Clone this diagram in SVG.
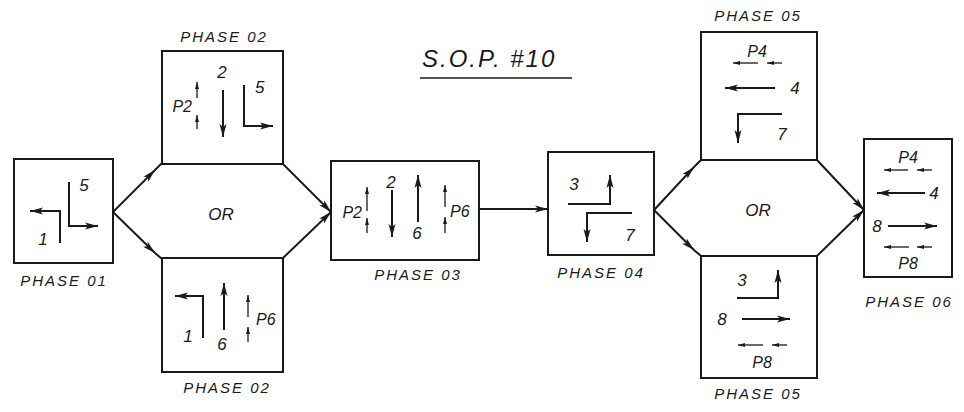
<svg xmlns="http://www.w3.org/2000/svg" width="964" height="412" viewBox="0 0 964 412">
<style>
.box{fill:none;stroke:#1a1a1a;stroke-width:2}
.mv{fill:none;stroke:#1a1a1a;stroke-width:2;marker-end:url(#ah)}
.ped{fill:none;stroke:#1a1a1a;stroke-width:1.3;marker-start:url(#ph)}
.con{fill:none;stroke:#1a1a1a;stroke-width:2}
text{font-family:"Liberation Sans",Arial,sans-serif;font-style:italic;fill:#1a1a1a;text-anchor:middle}
.lbl{font-size:15px;letter-spacing:2px}
.num{font-size:17px}
.pl{font-size:16px}
.ttl{font-size:24px;letter-spacing:2px;text-anchor:start}
</style>
<defs>
<marker id="ah" markerUnits="userSpaceOnUse" markerWidth="16" markerHeight="10" refX="13" refY="0" viewBox="0 -5 16 10" orient="auto" overflow="visible">
<path d="M0,-3.5 L13,0 L0,3.5 L3,0 Z" fill="#1a1a1a"/>
</marker>
<marker id="ph" markerUnits="userSpaceOnUse" markerWidth="8" markerHeight="6" refX="7" refY="0" viewBox="0 -3 8 6" orient="auto-start-reverse" overflow="visible">
<path d="M0,-2 L7,0 L0,2 Z" fill="#1a1a1a"/>
</marker>
</defs>

<text class="ttl" x="422" y="67">S.O.P. #10</text>
<path d="M420,78 H572" stroke="#1a1a1a" stroke-width="1.5"/>

<g id="connectors">
<path class="con" d="M113,212 L155,170 L162,163" marker-mid="url(#ah)"/>
<path class="con" d="M113,212 L155,253 L162,259" marker-mid="url(#ah)"/>
<path class="con" d="M283,164 L331,212" marker-end="url(#ah)"/>
<path class="con" d="M283,258 L331,212" marker-end="url(#ah)"/>
<path class="con" d="M479,209 H548" marker-end="url(#ah)"/>
<path class="con" d="M654,210 L694,167 L701,160" marker-mid="url(#ah)"/>
<path class="con" d="M654,210 L694,250 L701,256" marker-mid="url(#ah)"/>
<path class="con" d="M817,160 L864,210" marker-end="url(#ah)"/>
<path class="con" d="M817,256 L864,210" marker-end="url(#ah)"/>
<text class="num" x="221" y="220">OR</text>
<text class="num" x="758" y="216">OR</text>
</g>

<g id="phase01">
<rect class="box" x="14" y="159" width="99" height="104"/>
<path class="mv" d="M60,243 V211 H30"/>
<text class="num" x="43" y="245">1</text>
<path class="mv" d="M69,182 V226 H98"/>
<text class="num" x="84" y="191">5</text>
<text class="lbl" x="64" y="286">PHASE 01</text>
</g>

<g id="phase02a">
<rect class="box" x="162" y="51" width="121" height="113"/>
<text class="lbl" x="224" y="42">PHASE 02</text>
<text class="num" x="222" y="78">2</text>
<path class="mv" d="M223,90 V137"/>
<path class="ped" d="M197,82 V98"/>
<path class="ped" d="M197,115 V129"/>
<text class="pl" x="192" y="112" style="text-anchor:end">P2</text>
<path class="mv" d="M244,85 V126 H273"/>
<text class="num" x="255" y="93" style="text-anchor:start">5</text>
</g>

<g id="phase02b">
<rect class="box" x="162" y="258" width="121" height="114"/>
<path class="mv" d="M203,338 V296 H175"/>
<text class="num" x="188" y="342">1</text>
<path class="mv" d="M224,330 V283"/>
<text class="num" x="222" y="350">6</text>
<path class="ped" d="M248,295 V317"/>
<path class="ped" d="M248,327 V342"/>
<text class="pl" x="256" y="325" style="text-anchor:start">P6</text>
<text class="lbl" x="227" y="393">PHASE 02</text>
</g>

<g id="phase03">
<rect class="box" x="331" y="161" width="148" height="99"/>
<path class="ped" d="M367,187 V211"/>
<path class="ped" d="M367,218 V233"/>
<text class="pl" x="362" y="218" style="text-anchor:end">P2</text>
<text class="num" x="391" y="188">2</text>
<path class="mv" d="M392,190 V237"/>
<path class="mv" d="M418,222 V175"/>
<text class="num" x="417" y="239">6</text>
<path class="ped" d="M445,185 V207"/>
<path class="ped" d="M445,217 V233"/>
<text class="pl" x="450" y="217" style="text-anchor:start">P6</text>
<text class="lbl" x="418" y="280">PHASE 03</text>
</g>

<g id="phase04">
<rect class="box" x="548" y="152" width="106" height="103"/>
<path class="mv" d="M568,204 H610 V175"/>
<text class="num" x="574" y="190">3</text>
<path class="mv" d="M632,213 H587 V242"/>
<text class="num" x="630" y="241">7</text>
<text class="lbl" x="601" y="278">PHASE 04</text>
</g>

<g id="phase05a">
<rect class="box" x="701" y="32" width="116" height="128"/>
<text class="lbl" x="758" y="21">PHASE 05</text>
<text class="pl" x="757" y="57">P4</text>
<path class="ped" d="M733,63 H758"/>
<path class="ped" d="M767,63 H782"/>
<path class="mv" d="M775,88 H725"/>
<text class="num" x="795" y="94">4</text>
<path class="mv" d="M782,114 H738 V143"/>
<text class="num" x="782" y="140">7</text>
</g>

<g id="phase05b">
<rect class="box" x="701" y="256" width="116" height="122"/>
<path class="mv" d="M737,298 H778 V270"/>
<text class="num" x="742" y="286">3</text>
<path class="mv" d="M742,319 H790"/>
<text class="num" x="722" y="325">8</text>
<path class="ped" d="M738,345 H763"/>
<path class="ped" d="M772,345 H787"/>
<text class="pl" x="762" y="368">P8</text>
<text class="lbl" x="758" y="399">PHASE 05</text>
</g>

<g id="phase06">
<rect class="box" x="864" y="139" width="88" height="138"/>
<text class="pl" x="908" y="163">P4</text>
<path class="ped" d="M884,170 H908"/>
<path class="ped" d="M917,170 H932"/>
<path class="mv" d="M925,193 H877"/>
<text class="num" x="934" y="199">4</text>
<path class="mv" d="M888,226 H937"/>
<text class="num" x="877" y="232">8</text>
<path class="ped" d="M884,247 H909"/>
<path class="ped" d="M917,247 H932"/>
<text class="pl" x="908" y="269">P8</text>
<text class="lbl" x="909" y="307">PHASE 06</text>
</g>
</svg>
